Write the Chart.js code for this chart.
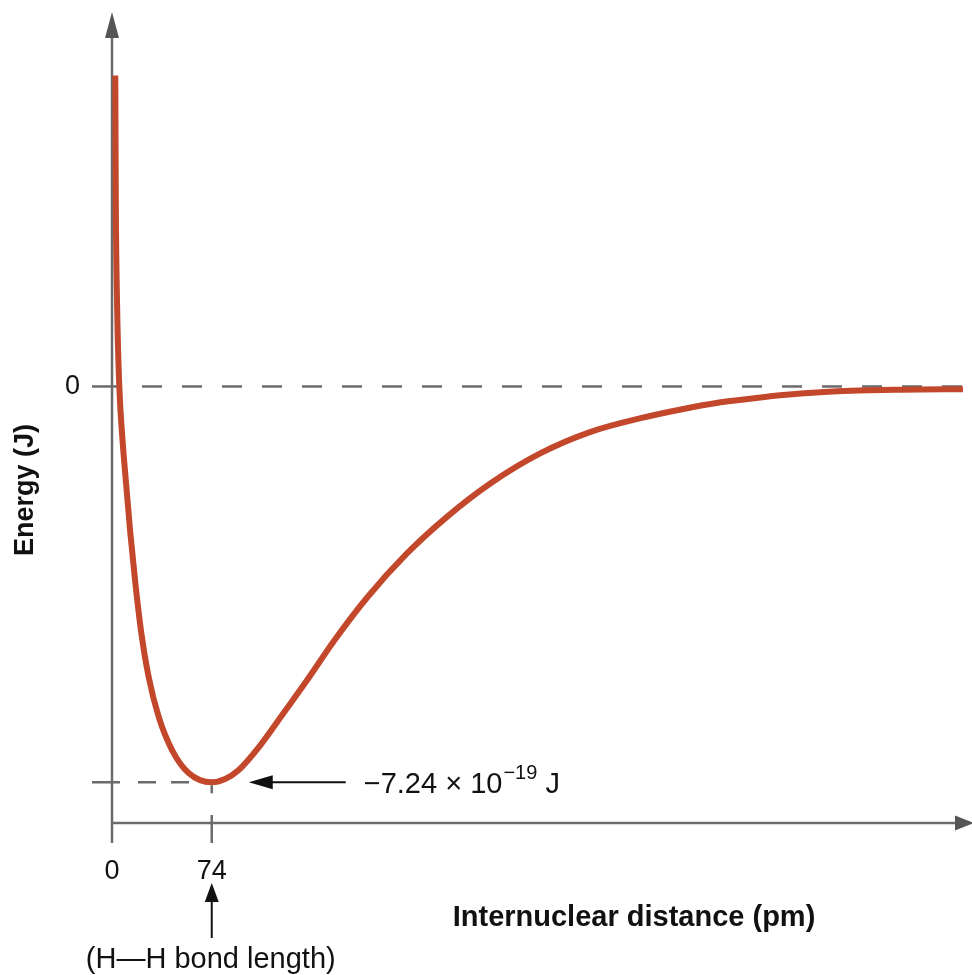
<!DOCTYPE html>
<html>
<head>
<meta charset="utf-8">
<script src="https://cdn.jsdelivr.net/npm/chart.js@4.4.1/dist/chart.umd.min.js"></script>
<style>
html,body{margin:0;padding:0;background:#fff;}
#wrap{width:972px;height:975px;}
</style>
</head>
<body>
<div id="wrap"><canvas id="c" width="972" height="975"></canvas></div>
<script>
// Data: internuclear distance (pm) vs energy (10^-19 J)
const distance = [2.45, 2.82, 3.71, 5.42, 7.42, 10.39, 13.59, 17.30, 21.75, 27.17, 34.60, 44.54, 56.87, 74, 83.9, 93.8, 110.1, 127.4, 144.8, 164.5, 189.3, 219.0, 248.7, 280.9, 318.0, 355.1, 392.2, 422.0, 451.6, 481.3, 511.0, 548.1, 585.2, 631.3];
const energy   = [5.69, 3.41, 1.58, 0, -0.85, -1.76, -2.68, -3.59, -4.51, -5.31, -6.04, -6.65, -7.07, -7.24, -7.18, -7.02, -6.56, -5.97, -5.37, -4.66, -3.86, -3.05, -2.38, -1.77, -1.22, -0.83, -0.58, -0.42, -0.29, -0.20, -0.13, -0.08, -0.06, -0.05];
const xTicks = [0, 74];
const xTickLabels = ['0', '74'];
const yTicks = [0, -7.24];
const yTickLabels = ['0', ''];
const bondLength = 74;
const minEnergy = -7.24;

const FONT = "'Liberation Sans', Arial, Helvetica, sans-serif";
const AXIS = '#6b6b6b';

const deco = {
  id: 'deco',
  beforeDatasetsDraw(chart) {
    const ctx = chart.ctx, xs = chart.scales.x, ys = chart.scales.y, a = chart.chartArea;
    const x0 = xs.getPixelForValue(0);
    const y0 = ys.getPixelForValue(0);
    const yb = a.bottom;
    const xm = xs.getPixelForValue(bondLength);
    const ym = ys.getPixelForValue(minEnergy);
    ctx.save();
    ctx.strokeStyle = AXIS;
    ctx.lineWidth = 2.5;
    // dashed zero line
    ctx.setLineDash([20, 20]);
    ctx.beginPath(); ctx.moveTo(x0 + 30, y0); ctx.lineTo(a.right - 6, y0); ctx.stroke();
    // dashed min line
    ctx.setLineDash([18, 15]);
    ctx.beginPath(); ctx.moveTo(x0 + 26, ym); ctx.lineTo(xm - 4, ym); ctx.stroke();
    ctx.setLineDash([]);
    // y-axis line
    ctx.beginPath(); ctx.moveTo(x0, yb + 20); ctx.lineTo(x0, a.top + 20); ctx.stroke();
    // x-axis line
    ctx.beginPath(); ctx.moveTo(x0, yb); ctx.lineTo(a.right - 12, yb); ctx.stroke();
    // ticks on y
    ctx.beginPath(); ctx.moveTo(x0 - 20, y0); ctx.lineTo(x0 + 6, y0); ctx.stroke();
    ctx.beginPath(); ctx.moveTo(x0 - 20, ym); ctx.lineTo(x0 + 8, ym); ctx.stroke();
    // tick on x at 74
    ctx.beginPath(); ctx.moveTo(xm, yb - 8); ctx.lineTo(xm, yb + 20); ctx.stroke();
    ctx.beginPath(); ctx.moveTo(xm, ym + 3); ctx.lineTo(xm, ym + 11); ctx.stroke();
    // arrowheads
    ctx.fillStyle = '#555';
    ctx.beginPath(); ctx.moveTo(x0, a.top); ctx.lineTo(x0 - 7, a.top + 26); ctx.lineTo(x0 + 7, a.top + 26); ctx.closePath(); ctx.fill();
    ctx.beginPath(); ctx.moveTo(a.right + 2, yb); ctx.lineTo(a.right - 17, yb - 7.5); ctx.lineTo(a.right - 17, yb + 7.5); ctx.closePath(); ctx.fill();
    ctx.restore();
  },
  afterDatasetsDraw(chart) {
    const ctx = chart.ctx, xs = chart.scales.x, ys = chart.scales.y;
    const xm = xs.getPixelForValue(bondLength);
    const ym = ys.getPixelForValue(minEnergy);
    ctx.save();
    ctx.fillStyle = '#111'; ctx.strokeStyle = '#111'; ctx.lineWidth = 2;
    // horizontal annotation arrow
    const tip = xm + 37;
    ctx.beginPath(); ctx.moveTo(tip + 20, ym); ctx.lineTo(tip + 97, ym); ctx.stroke();
    ctx.beginPath(); ctx.moveTo(tip, ym); ctx.lineTo(tip + 24, ym - 7); ctx.lineTo(tip + 24, ym + 7); ctx.closePath(); ctx.fill();
    // annotation text
    ctx.textBaseline = 'alphabetic'; ctx.textAlign = 'left';
    ctx.font = '29px ' + FONT;
    let tx = tip + 115; const by = ym + 11;
    const main = '\u22127.24 \u00d7 10';
    ctx.fillText(main, tx, by); tx += ctx.measureText(main).width + 1;
    ctx.font = '20px ' + FONT;
    const sup = '\u221219';
    ctx.fillText(sup, tx, by - 14); tx += ctx.measureText(sup).width;
    ctx.font = '29px ' + FONT;
    ctx.fillText(' J', tx, by);
    // vertical bond-length arrow
    const yt = 883;
    ctx.beginPath(); ctx.moveTo(xm, yt + 16); ctx.lineTo(xm, yt + 55); ctx.stroke();
    ctx.beginPath(); ctx.moveTo(xm, yt); ctx.lineTo(xm - 7, yt + 19); ctx.lineTo(xm + 7, yt + 19); ctx.closePath(); ctx.fill();
    ctx.textAlign = 'center'; ctx.textBaseline = 'middle';
    ctx.font = '29px ' + FONT;
    ctx.fillText('(H\u2014H bond length)', xm - 1, 960);
    // axis titles
    ctx.font = 'bold 29px ' + FONT;
    ctx.fillText('Internuclear distance (pm)', 634, 918);
    ctx.translate(26, 490); ctx.rotate(-Math.PI / 2);
    ctx.font = 'bold 27px ' + FONT;
    ctx.fillText('Energy (J)', 0, 0);
    ctx.restore();
  }
};

function noPad(s) { s.paddingTop = 0; s.paddingBottom = 0; s.paddingLeft = 0; s.paddingRight = 0; }

new Chart(document.getElementById('c'), {
  type: 'line',
  data: {
    datasets: [{
      data: distance.map((x, i) => ({ x: x, y: energy[i] })),
      borderColor: '#c2472b',
      borderWidth: 6,
      pointRadius: 0,
      fill: false,
      cubicInterpolationMode: 'monotone',
      borderCapStyle: 'butt',
      borderJoinStyle: 'round'
    }]
  },
  options: {
    responsive: false,
    animation: false,
    layout: { padding: { top: 12, right: 0, left: 0, bottom: 0 } },
    plugins: { legend: { display: false }, tooltip: { enabled: false } },
    scales: {
      x: {
        type: 'linear', min: 0, max: 638,
        afterBuildTicks: s => { s.ticks = xTicks.map(v => ({ value: v })); },
        afterFit: s => { s.height = 152; noPad(s); },
        grid: { display: false, drawTicks: false },
        border: { display: false },
        ticks: {
          autoSkip: false, maxRotation: 0, padding: 32, color: '#111',
          font: { family: FONT, size: 27 },
          callback: (v, i) => xTickLabels[i]
        }
      },
      y: {
        type: 'linear', min: -7.985, max: 6.85,
        afterBuildTicks: s => { s.ticks = yTicks.map(v => ({ value: v })); },
        afterFit: s => { s.width = 112; noPad(s); },
        grid: { display: false, drawTicks: false },
        border: { display: false },
        ticks: {
          autoSkip: false, padding: 32, color: '#111',
          font: { family: FONT, size: 27 },
          callback: (v, i) => yTickLabels[i]
        }
      }
    }
  },
  plugins: [deco]
});
</script>
</body>
</html>
